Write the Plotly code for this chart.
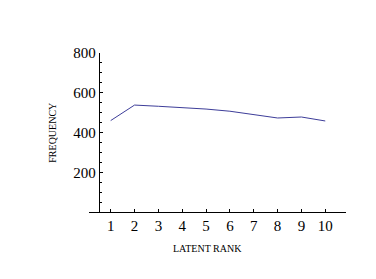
import plotly.graph_objects as go

ranks = [1, 2, 3, 4, 5, 6, 7, 8, 9, 10]
frequency = [460, 538, 532, 525, 518, 507, 490, 473, 478, 458]
y_ticks = [200, 400, 600, 800]

FONT = "Liberation Serif"
W, H = 376, 279
L, R, T, B = 89, 30, 53, 67
x_range = [0.09, 10.87]
pw = W - L - R
ph = H - T - B

fig = go.Figure()
fig.add_trace(go.Scatter(x=ranks, y=frequency, mode="lines",
                         line=dict(color="#3d3d99", width=1)))

yaxis_pos = (0.5 - x_range[0]) / (x_range[1] - x_range[0])

fig.update_layout(
    width=W, height=H, autosize=False,
    margin=dict(l=L, r=R, t=T, b=B, pad=0),
    paper_bgcolor="white", plot_bgcolor="white",
    showlegend=False,
    font=dict(family=FONT, color="black"),
    xaxis=dict(range=x_range, showline=True, linecolor="black", linewidth=1,
               ticks="inside", ticklen=3, tickcolor="black", tickwidth=1,
               tickvals=ranks, ticktext=[str(r) for r in ranks],
               showgrid=False, zeroline=False,
               tickfont=dict(family=FONT, size=15, color="black")),
    yaxis=dict(range=[0, 800], anchor="free", position=yaxis_pos,
               showline=True, linecolor="black", linewidth=1,
               ticks="inside", ticklen=3, tickcolor="black", tickwidth=1,
               tickvals=y_ticks, ticktext=[str(v) for v in y_ticks],
               minor=dict(dtick=50, ticks="inside", ticklen=2, tickcolor="black", showgrid=False),
               showgrid=False, zeroline=False,
               tickfont=dict(family=FONT, size=15, color="black")),
    annotations=[
        dict(text="FREQUENCY", xref="paper", yref="paper",
             x=(51.7 - L) / pw, y=(H - B - 133) / ph, textangle=-90,
             showarrow=False, xanchor="center", yanchor="middle",
             font=dict(family=FONT, size=10, color="black")),
        dict(text="LATENT RANK", xref="paper", yref="paper",
             x=(207 - L) / pw, y=(H - B - 248) / ph,
             showarrow=False, xanchor="center", yanchor="middle",
             font=dict(family=FONT, size=10, color="black")),
    ],
)

fig.write_html("out.html")
